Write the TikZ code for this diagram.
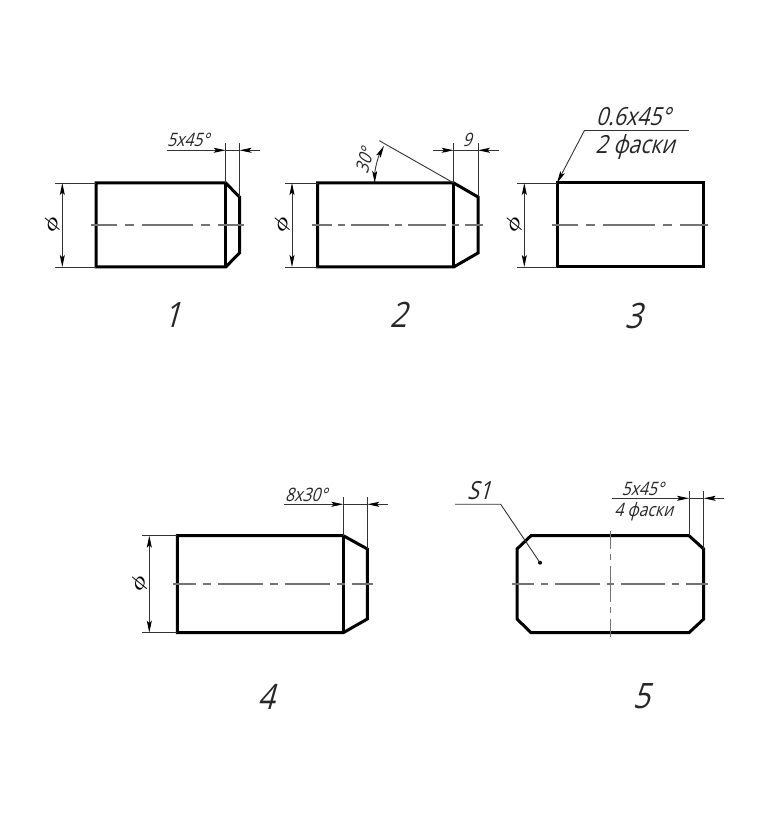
\documentclass[tikz,border=0pt]{standalone}
\usepackage{fontspec}
\usepackage{amsmath}
\usetikzlibrary{arrows.meta}
\newfontfamily\gost[FakeStretch=0.85,FakeSlant=0.28]{Open Sans}
\tikzset{
  part/.style={line width=3pt,line join=miter,black},
  thinline/.style={line width=.9pt,black!80},
  axis/.style={line width=1.1pt,black!55},
  dimline/.style={line width=.9pt,black!80,-{Stealth[length=12pt,width=5pt,inset=2.5pt,color=black]}},
  dimboth/.style={line width=.9pt,black!80,{Stealth[length=12pt,width=5pt,inset=2.5pt,color=black]}-{Stealth[length=12pt,width=5pt,inset=2.5pt,color=black]}},
  small/.style={font=\gost\fontsize{18.5}{20}\selectfont,inner sep=0pt,black!85},
  middle/.style={font=\gost\fontsize{25}{28}\selectfont,inner sep=0pt,black!85},
  big/.style={font=\gost\fontsize{35}{40}\selectfont,inner sep=0pt,black!85},
  phisign/.style={rotate=65,inner sep=0pt,font=\fontsize{22}{24}\selectfont,black}
}
\begin{document}
\begin{tikzpicture}[x=1pt,y=1pt]
\useasboundingbox (0,0) rectangle (771,818);
% part 1
\draw[part] (96,635)--(225.7,635)--(239.5,621)--(239.5,565)--(225.7,551)--(96,551)--cycle;
\draw[part] (225.7,635)--(225.7,551);
\draw[axis,dash pattern=on 51pt off 8pt on 9pt off 8pt,dash phase=25.3] (91,593)--(244,593);
\draw[thinline] (55,635)--(96,635);
\draw[thinline] (55,551)--(96,551);
\draw[dimboth] (62.3,635)--(62.3,551);
\node[phisign] (phione) at (52,593) {$\boldsymbol{\phi}$};
\draw[thinline] (225.7,635)--(225.7,675);
\draw[thinline] (239.5,621)--(239.5,675);
\draw[dimline] (167.3,667.7)--(225.7,667.7);
\draw[thinline] (225.7,667.7)--(239.5,667.7);
\draw[dimline] (260,667.7)--(239.5,667.7);
\node[small] (chamferone) at (188,678) {5x45°};
\node[big] (numone) at (172,503) {1};
% part 2
\draw[part] (317.5,635)--(453.7,635)--(478,621)--(478,565)--(453.7,551)--(317.5,551)--cycle;
\draw[part] (453.7,635)--(453.7,551);
\draw[axis,dash pattern=on 38.5pt off 6pt on 6.5pt off 6pt,dash phase=18.5] (312.3,593)--(482.7,593);
\draw[thinline] (285,635)--(317.5,635);
\draw[thinline] (285,551)--(317.5,551);
\draw[dimboth] (292,635)--(292,551);
\node[phisign] (phitwo) at (282,593) {$\boldsymbol{\phi}$};
\draw[thinline] (453.7,635)--(453.7,675);
\draw[thinline] (478,621)--(478,675);
\draw[dimline] (433,667.7)--(453.7,667.7);
\draw[thinline] (453.7,667.7)--(478,667.7);
\draw[dimline] (498.7,667.7)--(478,667.7);
\node[small] (lengthtwo) at (467,678) {9};
\draw[thinline] (453.7,635)--(379.3,677.3);
\draw[dimboth] (374.7,635) arc[start angle=180,end angle=152,radius=79];
\node[small,rotate=75] (angletwo) at (364.5,657) {30°};
\node[big] (numtwo) at (398,503) {2};
% part 3
\draw[part] (557,635) rectangle (703.3,551);
\draw[axis,dash pattern=on 52pt off 8pt on 9pt off 8pt,dash phase=26] (552.3,593)--(708,593);
\draw[thinline] (517.3,635)--(557,635);
\draw[thinline] (517.3,551)--(557,551);
\draw[dimboth] (524.3,635)--(524.3,551);
\node[phisign] (phithree) at (514,593) {$\boldsymbol{\phi}$};
\draw[dimline] (584.3,687.3)--(557,635);
\draw[thinline] (584.3,687.3)--(688.7,687.3);
\node[middle] (chamferthree) at (633,701) {0.6x45°};
\node[middle] (countthree) at (635,671) {2 фаски};
\node[big] (numthree) at (633,502) {3};
% part 4
\draw[part] (177.3,282.3)--(343.3,282.3)--(367.3,269)--(367.3,199)--(343.3,185.3)--(177.3,185.3)--cycle;
\draw[part] (343.3,282.3)--(343.3,185.3);
\draw[axis,dash pattern=on 45pt off 7pt on 8pt off 7pt,dash phase=22] (172.7,234)--(372.7,234);
\draw[thinline] (142.3,282.3)--(177.3,282.3);
\draw[thinline] (142.3,185.3)--(177.3,185.3);
\draw[dimboth] (149.3,282.3)--(149.3,185.3);
\node[phisign] (phifour) at (139.3,234.7) {$\boldsymbol{\phi}$};
\draw[thinline] (343.3,282.3)--(343.3,320.7);
\draw[thinline] (367.3,269)--(367.3,320.7);
\draw[dimline] (284,313.7)--(343.3,313.7);
\draw[thinline] (343.3,313.7)--(367.3,313.7);
\draw[dimline] (388,313.7)--(367.3,313.7);
\node[small] (chamferfour) at (306,323) {8x30°};
\node[big] (numfour) at (266,121) {4};
% part 5
\draw[part] (531,282.3)--(689,282.3)--(703.7,269)--(703.7,199)--(689,185.3)--(531,185.3)--(517,199)--(517,269)--cycle;
\draw[axis,dash pattern=on 44.5pt off 7pt on 7pt off 7pt,dash phase=22.5] (512.3,234)--(707.7,234);
\draw[axis,dash pattern=on 36pt off 5.5pt on 6pt off 5.5pt,dash phase=18] (610.3,287)--(610.3,181.3);
\draw[thinline] (689,282.3)--(689,327);
\draw[thinline] (703.7,269)--(703.7,327);
\draw[dimline] (612.3,319.7)--(689,319.7);
\draw[thinline] (689,319.7)--(703.7,319.7);
\draw[dimline] (724,319.7)--(703.7,319.7);
\node[small] (chamferfive) at (642.7,329) {5x45°};
\node[small] (countfive) at (643.7,306.3) {4 фаски};
% leader of S1
\coordinate (sdot) at (540,255.3);
\fill[black] (sdot) circle (2);
\draw[thinline] (455,313.7)--(500.7,313.7)--(sdot);
\node[middle] (sname) at (479,327) {S1};
\node[big] (numfive) at (641,122) {5};
\end{tikzpicture}
\end{document}
